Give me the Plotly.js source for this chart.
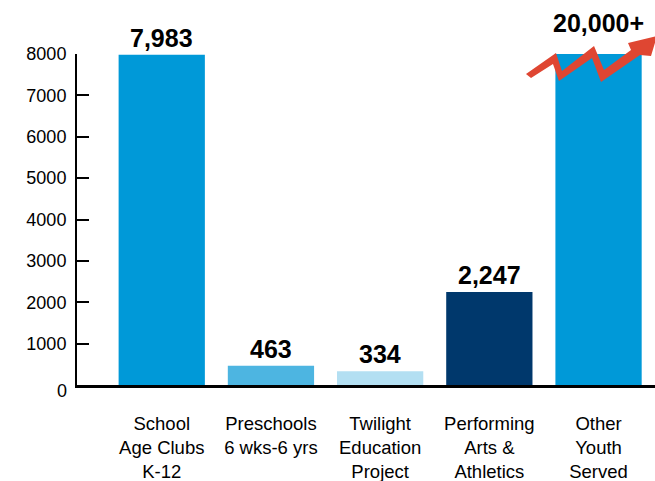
<!DOCTYPE html>
<html>
<head>
<meta charset="utf-8">
<script src="https://cdn.plot.ly/plotly-3.0.1.min.js"></script>
<style>html,body{margin:0;padding:0;background:#fff;} #chart{width:655px;height:481px;}</style>
</head>
<body>
<div id="chart"></div>
<script>
// ---- data ----
const categories = [
  "School<br>Age Clubs<br>K-12",
  "Preschools<br>6 wks-6 yrs",
  "Twilight<br>Education<br>Project",
  "Performing<br>Arts &<br>Athletics",
  "Other<br>Youth<br>Served"
];
const values = [7983, 463, 334, 2247, 20000];
const valueLabels = ["7,983", "463", "334", "2,247", "20,000+"];
const barColors = ["#0099D8", "#4DB5E1", "#B3DFF2", "#00386C", "#0099D8"];
const yTickVals = [1000, 2000, 3000, 4000, 5000, 6000, 7000, 8000];
const yTickText = ["1000", "2000", "3000", "4000", "5000", "6000", "7000", "8000"];
const yMax = 8000;

// decorative arrow outline in pixel coordinates (page space)
const arrowPts = [
  [526,74],[556,53],[562,71],[594,46],[604,70],[631,50],[628,43],[657,36],
  [651,56],[640,55],[601,82],[592,58],[559,81],[553,64],[531,78]
];

const W = 655, H = 481, mL = 77, mR = 0, mT = 54, mB = 96;
const pw = W - mL - mR, ph = H - mT - mB;
const toPaper = p => [((p[0] - mL) / pw).toFixed(4), ((H - mB - p[1]) / ph).toFixed(4)];
const arrowPath = arrowPts.map((p, i) => (i ? "L" : "M") + toPaper(p).join(",")).join(" ") + " Z";

const font = "Liberation Sans, Arial, Helvetica, sans-serif";

const annotations = categories.map((c, i) => ({
  x: i, y: Math.min(values[i], yMax), xref: "x", yref: "y",
  text: valueLabels[i], showarrow: false, yanchor: "bottom",
  yshift: values[i] > yMax ? 15 : 1,
  font: {family: font, size: 25, color: "#000", weight: "bold"}
}));
annotations.push({
  x: 0, xref: "paper", xanchor: "right", xshift: -8,
  y: 0, yref: "y", yanchor: "middle", yshift: -6,
  text: "0", showarrow: false, font: {family: font, size: 18, color: "#000"}
});

const trace = {
  type: "bar",
  x: categories.map((c, i) => i),
  y: values,
  marker: {color: barColors},
  hoverinfo: "none"
};

const layout = {
  width: W, height: H,
  margin: {l: mL, r: mR, t: mT, b: mB, pad: 0},
  paper_bgcolor: "#fff", plot_bgcolor: "#fff",
  showlegend: false,
  bargap: 0.21,
  xaxis: {
    range: [-0.776, 4.517],
    tickvals: categories.map((c, i) => i),
    ticktext: categories,
    tickfont: {family: font, size: 18.5, color: "#000"},
    ticks: "",
    showgrid: false, zeroline: false,
    showline: true, linecolor: "#000", linewidth: 2.5,
    ticklabelstandoff: 20,
    fixedrange: true
  },
  yaxis: {
    range: [0, yMax],
    tickvals: yTickVals, ticktext: yTickText,
    tickfont: {family: font, size: 18, color: "#000"},
    ticks: "inside", ticklen: 12, tickwidth: 2, tickcolor: "#000",
    showgrid: false, zeroline: false,
    showline: true, linecolor: "#000", linewidth: 2,
    ticklabelstandoff: 5,
    fixedrange: true
  },
  annotations: annotations,
  shapes: [{
    type: "path", xref: "paper", yref: "paper", path: arrowPath,
    fillcolor: "#DF4632", line: {width: 0}, layer: "above"
  }]
};

Plotly.newPlot("chart", [trace], layout, {staticPlot: true, displayModeBar: false});
</script>
</body>
</html>
